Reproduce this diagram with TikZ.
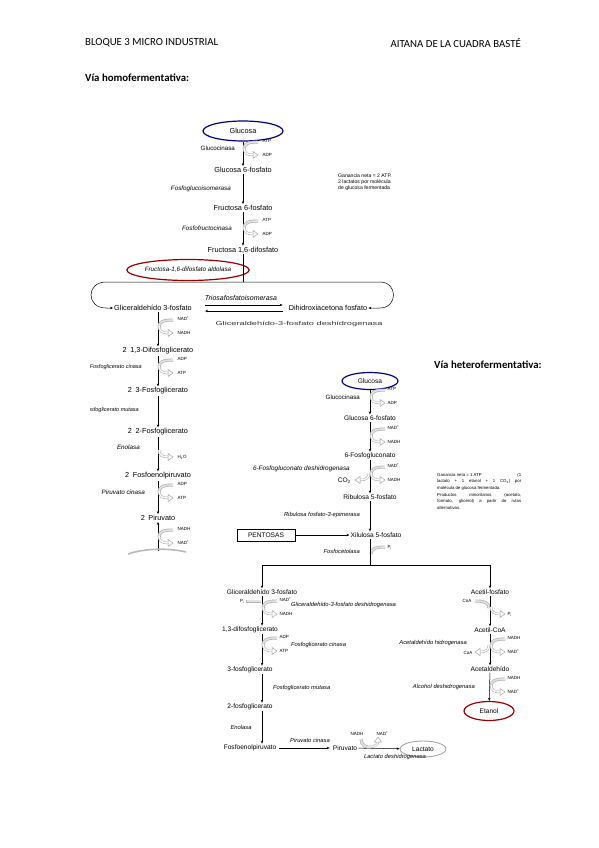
\documentclass[tikz,border=0pt]{standalone}
\usepackage{fontspec}
\usepackage{graphicx}
\setmainfont{Carlito}
\newfontfamily\arialf{Liberation Sans}
\usetikzlibrary{positioning,arrows.meta,calc,shapes}

\tikzset{
  cofin/.pic={
    \draw[gray!60, line width=3pt] (15,-6) .. controls (5,-6) and (1,-4) .. (1,1);
    \draw[gray!22, line width=1.6pt] (15,-6) .. controls (5,-6) and (1,-4) .. (1,1);
  },
  cofout/.pic={
    \draw[gray!70, double=white, double distance=1.4pt, line width=0.5pt] (1,0) .. controls (1,5) and (4,7) .. (10,7);
    \draw[gray!70, fill=white, line width=0.5pt] (10,3.5) -- (15,7) -- (10,10.5) -- cycle;
  },
}

\begin{document}
\begin{tikzpicture}[x=1pt, y=-1pt,
    hdr/.style={font=\fontsize{10.8}{12}\selectfont, inner sep=0pt},
    tit/.style={font=\bfseries\fontsize{10.8}{12}\selectfont, inner sep=0pt},
    met/.style={font=\arialf\fontsize{7.3}{8}\selectfont, inner sep=1pt},
    met2/.style={font=\arialf\fontsize{6.6}{7.5}\selectfont, inner sep=1pt},
    enz/.style={font=\arialf\itshape\fontsize{6.3}{7}\selectfont, inner sep=1pt},
    enz2/.style={font=\arialf\itshape\fontsize{5.8}{6.5}\selectfont, inner sep=1pt},
    enzr/.style={font=\arialf\fontsize{6.2}{7}\selectfont, inner sep=1pt},
    cof/.style={font=\arialf\fontsize{4.5}{5}\selectfont, inner sep=0.5pt, anchor=west},
    nota/.style={font=\arialf\fontsize{5.1}{6}\selectfont, inner sep=0pt, anchor=north west, align=left},
    flecha/.style={-{Stealth[length=3pt,width=2.4pt]}, line width=0.5pt}
]
\useasboundingbox[fill=white] (0,0) rectangle (599,848);

% cabecera
\node[hdr, anchor=west] (bloque) at (85,43) {BLOQUE 3 MICRO INDUSTRIAL};
\node[hdr, anchor=east] (autora) at (521,43) {AITANA DE LA CUADRA BASTÉ};
\node[tit, anchor=west] (homo) at (85,78) {Vía homofermentativa:};
\node[tit, anchor=west] (hetero) at (434,365) {Vía heterofermentativa:};

% --- via homofermentativa
\begin{scope}
\clip (90,112) rectangle (412,556);
\node[met, ellipse, draw=blue!55!black, line width=1.2pt, minimum width=80pt, minimum height=20pt] (glc) at (243,131) {Glucosa};
\node[met] (g6p) at (243,170) {Glucosa 6-fosfato};
\node[met] (f6p) at (243,208) {Fructosa 6-fosfato};
\node[met] (fbp) at (243,250) {Fructosa 1,6-difosfato};
\draw[flecha] (glc) -- (g6p);
\draw[flecha] (g6p) -- (f6p);
\draw[flecha] (f6p) -- (fbp);

\pic at (243,148) {cofin}; \pic at (243,148) {cofout};
\node[cof] (atp1) at (262,141) {ATP};
\node[cof] (adp1) at (262,155) {ADP};
\node[enzr, anchor=east] (glk) at (236,148) {Glucocinasa};
\node[enz, anchor=east] (pgi) at (232,189) {Fosfoglucoisomerasa};
\pic at (243,227) {cofin}; \pic at (243,227) {cofout};
\node[cof] (atp2) at (262,220) {ATP};
\node[cof] (adp2) at (262,234) {ADP};
\node[enz, anchor=east] (pfk) at (233,228) {Fosfofructocinasa};

\node[enz, ellipse, draw=red!60!black, line width=1.2pt, minimum width=118pt, minimum height=21pt, inner sep=0pt] (ald) at (188,270) {Fructosa-1,6-difosfato aldolasa};

\node[met] (gap) at (153,308) {Gliceraldehído 3-fosfato};
\node[met] (dhap) at (328,308) {Dihidroxiacetona fosfato};
\coordinate (rama) at (243,282);
\draw (fbp) -- (rama);
\draw[flecha] (rama) -- (106,282) .. controls (86,282) and (86,308) .. (106,308) -- (gap.west);
\draw[flecha] (rama) -- (380,282) .. controls (398,282) and (398,308) .. (380,308) -- (dhap.east);
\draw[flecha, shorten <=12pt, shorten >=5pt] ([yshift=3pt]gap.east) -- ([yshift=3pt]dhap.west);
\draw[flecha, shorten <=5pt, shorten >=12pt] ([yshift=-3pt]dhap.west) -- ([yshift=-3pt]gap.east);
\node[enz, font=\arialf\itshape\fontsize{7}{8}\selectfont] (tpi) at (241,298) {Triosafosfatoisomerasa};
\node[enzr, font=\arialf\fontsize{5.6}{6.5}\selectfont, text=black!80] (gapdh) at (299,324) {\scalebox{1.65}[1]{Gliceraldehído-3-fosfato deshidrogenasa}};

\coordinate (lcol) at (158,0);
\node[met] (bpg) at (158,351) {2\enspace1,3-Difosfoglicerato};
\node[met] (pg3) at (158,391) {2\enspace3-Fosfoglicerato};
\node[met] (pg2) at (158,432) {2\enspace2-Fosfoglicerato};
\node[met] (pep) at (158,476) {2\enspace Fosfoenolpiruvato};
\node[met] (pyr) at (158,518) {2\enspace Piruvato};
\draw[flecha] (gap.south -| lcol) -- (bpg.north -| lcol);
\draw[flecha] (bpg.south -| lcol) -- (pg3.north -| lcol);
\draw[flecha] (pg3.south -| lcol) -- (pg2.north -| lcol);
\draw[flecha] (pg2.south -| lcol) -- (pep.north -| lcol);
\draw[flecha] (pep.south -| lcol) -- (pyr.north -| lcol);
\coordinate (fin) at (158,551);
\draw[flecha] (fin) -- (pyr.south -| lcol);
\draw[gray!55, line width=1.6pt] (128,554) .. controls (145,548) and (170,548) .. (186,552);

\pic at (158,326) {cofin}; \pic at (158,326) {cofout};
\node[cof] (nad1) at (177,319) {NAD\textsuperscript{+}};
\node[cof] (nadh1) at (177,333) {NADH};
\pic at (158,366) {cofin}; \pic at (158,366) {cofout};
\node[cof] (adp3) at (177,359) {ADP};
\node[cof] (atp3) at (177,373) {ATP};
\node[enz, anchor=east, font=\arialf\itshape\fontsize{5.5}{6}\selectfont] (pgk) at (143,367) {Fosfoglicerato cinasa};
\node[enz, anchor=east, font=\arialf\itshape\fontsize{5.5}{6}\selectfont] (pgm) at (140,410) {Fosfoglicerato mutasa};
\pic at (158,450) {cofout};
\node[cof] (h2o) at (177,457) {H\textsubscript{2}O};
\node[enz, anchor=east] (eno) at (141,447) {Enolasa};
\pic at (158,491) {cofin}; \pic at (158,491) {cofout};
\node[cof] (adp4) at (177,484) {ADP};
\node[cof] (atp4) at (177,498) {ATP};
\node[enz, anchor=east] (pk) at (146,492) {Piruvato cinasa};
\pic at (158,536) {cofin}; \pic at (158,536) {cofout};
\node[cof] (nadh2) at (177,529) {NADH};
\node[cof] (nad2) at (177,543) {NAD\textsuperscript{+}};

\node[nota] (gan1) at (338,174) {Ganancia neta = 2 ATP.\\2 lactatos por molécula\\de glucosa fermentada};
\end{scope}

% --- via heterofermentativa
\coordinate (hcol) at (370,0);
\node[met2, ellipse, draw=blue!55!black, line width=1.2pt, minimum width=56pt, minimum height=17pt, inner sep=0pt] (glc2) at (370,381) {Glucosa};
\node[met2] (g6p2) at (370,418) {Glucosa 6-fosfato};
\node[met2] (pgn) at (370,456) {6-Fosfogluconato};
\node[met2] (ru5p) at (370,497) {Ribulosa 5-fosfato};
\node[met2] (xu5p) at (376,535) {Xilulosa 5-fosfato};
\node[met2, draw, line width=0.5pt, minimum width=58pt, minimum height=12pt] (pent) at (266,535) {PENTOSAS};
\draw[flecha] (glc2) -- (g6p2);
\draw[flecha] (g6p2) -- (pgn);
\draw[flecha] (pgn) -- (ru5p);
\draw[flecha] (ru5p.south -| hcol) -- (xu5p.north -| hcol);
\draw[flecha] (pent) -- (xu5p);

\pic at (370,396) {cofin}; \pic at (370,396) {cofout};
\node[cof] (atp5) at (387,389) {ATP};
\node[cof] (adp5) at (387,403) {ADP};
\node[enzr, anchor=east] (glk2) at (361,397) {Glucocinasa};
\pic at (370,435) {cofin}; \pic at (370,435) {cofout};
\node[cof] (nad3) at (387,428) {NAD\textsuperscript{+}};
\node[cof] (nadh3) at (387,442) {NADH};
\pic at (370,473) {cofin}; \pic at (370,473) {cofout}; \pic[xscale=-1] at (370,473) {cofout};
\node[cof] (nad4) at (387,466) {NAD\textsuperscript{+}};
\node[cof] (nadh4) at (387,480) {NADH};
\node[met2, anchor=east] (co2) at (352,481) {CO\textsubscript{2}};
\node[enz2, anchor=east, font=\arialf\itshape\fontsize{6.4}{7}\selectfont] (g6pdh) at (351,469) {6-Fosfogluconato deshidrogenasa};
\node[enz2, anchor=east] (rpe) at (361,515) {Ribulosa fosfato-3-epimerasa};
\pic at (370,553) {cofin};
\node[cof] (pi1) at (387,547) {P\textsubscript{i}};
\node[enz2, anchor=east] (pkt) at (361,551) {Fosfocetolasa};

\node[met2] (gap2) at (262,592) {Gliceraldehído 3-fosfato};
\node[met2] (acp) at (490,592) {Acetil-fosfato};
\coordinate (rama2) at (370,565);
\draw (xu5p.south -| hcol) -- (rama2);
\draw[flecha] (rama2) -| (gap2);
\draw[flecha] (rama2) -| (acp);

% rama izquierda
\coordinate (icol) at (262,0);
\node[met2] (bpg2) at (250,630) {1,3-difosfoglicerato};
\node[met2] (pg3b) at (250,670) {3-fosfoglicerato};
\node[met2] (pg2b) at (250,707) {2-fosfoglicerato};
\node[met2] (pepb) at (250,748) {Fosfoenolpiruvato};
\draw[flecha] (gap2.south -| icol) -- (bpg2.north -| icol);
\draw[flecha] (bpg2.south -| icol) -- (pg3b.north -| icol);
\draw[flecha] (pg3b.south -| icol) -- (pg2b.north -| icol);
\draw[flecha] (pg2b.south -| icol) -- (pepb.north -| icol);

\pic at (262,607) {cofin}; \pic at (262,607) {cofout};
\draw[gray!60, line width=3pt] (246,601) -- (261,601);
\draw[gray!22, line width=1.6pt] (247,601) -- (261,601);
\node[cof, anchor=east] (pi2) at (245,601) {P\textsubscript{i}};
\node[cof] (nad5) at (279,600) {NAD\textsuperscript{+}};
\node[cof] (nadh5) at (279,614) {NADH};
\node[enz2, anchor=west] (gapdh2) at (290,605) {Gliceraldehído-3-fosfato deshidrogenasa};
\pic at (262,644) {cofin}; \pic at (262,644) {cofout};
\node[cof] (adp6) at (279,637) {ADP};
\node[cof] (atp6) at (279,651) {ATP};
\node[enz2, anchor=west] (pgk2) at (290,645) {Fosfoglicerato cinasa};
\node[enz2, anchor=west] (pgm2) at (272,688) {Fosfoglicerato mutasa};
\node[enz2] (eno2) at (241,727) {Enolasa};

\node[met2] (pyrb) at (345,748) {Piruvato};
\node[met2, ellipse, draw=gray!70, line width=0.9pt, minimum width=46pt, minimum height=16pt, inner sep=0pt] (lact) at (423,749) {Lactato};
\draw[flecha, shorten <=2pt, shorten >=2pt] (pepb) -- (pyrb);
\draw[flecha] (pyrb) -- (lact);
\node[enz2] (pk2) at (310,740) {Piruvato cinasa};
\node[enz2] (ldh) at (395,757) {Lactato deshidrogenasa};
\node[cof] (nadh6) at (350,734) {NADH};
\node[cof] (nad6) at (376,734) {NAD\textsuperscript{+}};
\draw[gray!60, line width=3pt] (361,739) .. controls (361,745) and (366,748) .. (371,747);
\draw[gray!22, line width=1.6pt] (361,739) .. controls (361,745) and (366,748) .. (371,747);
\draw[gray!70, double=white, double distance=1.2pt, line width=0.5pt] (371,747) .. controls (375,746) and (378,744) .. (378,742);
\draw[gray!70, fill=white, line width=0.5pt] (374.5,742) -- (378,737) -- (381.5,742) -- cycle;

% rama derecha
\coordinate (dcol) at (490,0);
\node[met2] (acoa) at (490,630) {Acetil-CoA};
\node[met2] (acald) at (490,669) {Acetaldehído};
\node[met2, ellipse, draw=red!60!black, line width=1.2pt, minimum width=50pt, minimum height=19pt, inner sep=0pt] (etoh) at (489,711) {Etanol};
\draw[flecha] (acp) -- (acoa);
\draw[flecha] (acoa) -- (acald);
\draw[flecha] (acald) -- (etoh);

\pic[xscale=-1] at (490,607) {cofin}; \pic at (490,607) {cofout};
\node[cof, anchor=east] (coa1) at (472,601) {CoA};
\node[cof] (pi3) at (507,614) {P\textsubscript{i}};
\pic at (490,645) {cofin}; \pic at (490,645) {cofout}; \pic[xscale=-1] at (490,645) {cofout};
\node[cof] (nadh7) at (507,638) {NADH};
\node[cof] (nad7) at (507,652) {NAD\textsuperscript{+}};
\node[cof, anchor=east] (coa2) at (473,653) {CoA};
\node[enz2, anchor=east] (acdh) at (468,643) {Acetaldehído hidrogenasa};
\pic at (490,685) {cofin}; \pic at (490,685) {cofout};
\node[cof] (nadh8) at (507,678) {NADH};
\node[cof] (nad8) at (507,692) {NAD\textsuperscript{+}};
\node[enz2, anchor=east] (adh) at (476,687) {Alcohol deshidrogenasa};

\node[nota, font=\arialf\fontsize{4.3}{5}\selectfont] (gan2) at (437,473) {%
\makebox[84pt][s]{Ganancia neta = 1 ATP \hfill (1}\\[1.6pt]
\makebox[84pt][s]{lactato + 1 etanol + 1 CO\textsubscript{2}) por}\\[1.6pt]
molécula de glucosa fermentada.\\[1.6pt]
\makebox[84pt][s]{Productos minoritarios (acetato,}\\[1.6pt]
\makebox[84pt][s]{formato, glicerol) a partir de rutas}\\[1.6pt]
alternativas.};
\end{tikzpicture}
\end{document}
